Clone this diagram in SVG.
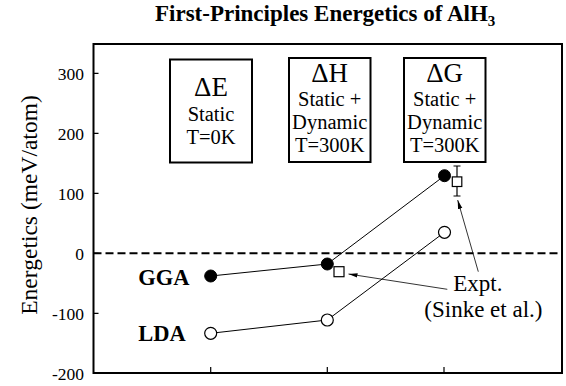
<svg xmlns="http://www.w3.org/2000/svg" width="566" height="386" viewBox="0 0 566 386" font-family="'Liberation Serif', 'Times New Roman', serif">
<style>
text { font-family: "Liberation Serif", "Times New Roman", serif; fill: #000; }
.tick { font-family: "Liberation Serif", serif; font-size: 17.5px; text-anchor: end; }
.bx { fill: #fff; stroke: #000; stroke-width: 2; }
.big { font-family: "Liberation Serif", serif; font-size: 27px; text-anchor: middle; }
.sub { font-family: "Liberation Serif", serif; font-size: 20.5px; text-anchor: middle; }
.lbl { font-family: "Liberation Serif", serif; font-size: 22.5px; font-weight: bold; }
.note { font-family: "Liberation Serif", serif; font-size: 23px; }
.ln { fill: none; stroke: #000; stroke-width: 1; }
.arr { fill: none; stroke: #000; stroke-width: 0.8; marker-end: url(#ah); }
.full { fill: #000; stroke: #000; stroke-width: 1; }
.open { fill: #fff; stroke: #000; stroke-width: 1.2; }
.sq { fill: #fff; stroke: #000; stroke-width: 1.2; }
</style>
<defs>
<marker id="ah" markerWidth="10" markerHeight="6" refX="9" refY="3" orient="auto" markerUnits="userSpaceOnUse">
<path d="M0,0.8 L9,3 L0,5.2 Z" fill="#000"/>
</marker>
</defs>
<rect width="566" height="386" fill="#fff"/>

<g id="title">
<text x="155" y="20.5" style="font-size:23px;font-weight:bold">First-Principles Energetics of AlH<tspan style="font-size:15px" dy="5.5">3</tspan></text>
</g>

<g id="axes">
<rect x="93.5" y="44" width="468.5" height="329" fill="none" stroke="#000" stroke-width="2"/>
<path d="M93.5,73.3 h5 M93.5,133.3 h5 M93.5,193.3 h5 M93.5,253.3 h5 M93.5,313.3 h5 M210.7,373 v-6 M327.3,373 v-6 M444,373 v-6" stroke="#000" stroke-width="1.2" fill="none"/>
<text class="tick" x="84" y="80">300</text>
<text class="tick" x="84" y="140">200</text>
<text class="tick" x="84" y="200">100</text>
<text class="tick" x="84" y="260">0</text>
<text class="tick" x="84" y="320">-100</text>
<text class="tick" x="84" y="380">-200</text>
<text x="37" y="205" transform="rotate(-90 37 205)" style="font-size:23.5px;text-anchor:middle">Energetics (meV/atom)</text>
<line x1="93.5" y1="253.3" x2="562" y2="253.3" stroke="#000" stroke-width="2" stroke-dasharray="8,4"/>
</g>

<g id="box-dE">
<rect class="bx" x="170" y="59.5" width="82" height="103"/>
<text class="big" x="211" y="95.5">ΔE</text>
<text class="sub" x="211" y="120.5">Static</text>
<text class="sub" x="211" y="143.5">T=0K</text>
</g>
<g id="box-dH">
<rect class="bx" x="289" y="58" width="81.5" height="104"/>
<text class="big" x="329.7" y="81.5">ΔH</text>
<text class="sub" x="329.7" y="106">Static +</text>
<text class="sub" x="329.7" y="129">Dynamic</text>
<text class="sub" x="329.7" y="152">T=300K</text>
</g>
<g id="box-dG">
<rect class="bx" x="404" y="58" width="81.5" height="104"/>
<text class="big" x="444.7" y="81.5">ΔG</text>
<text class="sub" x="444.7" y="106">Static +</text>
<text class="sub" x="444.7" y="129">Dynamic</text>
<text class="sub" x="444.7" y="152">T=300K</text>
</g>

<g id="connectors">
<polyline class="ln" points="210.7,276 327.3,264 444.5,175.7"/>
<polyline class="ln" points="210.7,333.3 327.3,320 444.5,232.3"/>
<line x1="457" y1="166" x2="457" y2="196" stroke="#000" stroke-width="1.2"/>
<path d="M453.5,166 h7 M453.5,196 h7" stroke="#000" stroke-width="1.2"/>
<line class="arr" x1="447.3" y1="289.3" x2="348.5" y2="274"/>
<line class="arr" x1="478.3" y1="271.7" x2="457.7" y2="200"/>
</g>

<g id="gga">
<circle class="full" cx="210.7" cy="276" r="6"/>
<circle class="full" cx="327.3" cy="264" r="6"/>
<circle class="full" cx="444.5" cy="175.7" r="6"/>
<text class="lbl" x="138.3" y="284.5">GGA</text>
</g>
<g id="lda">
<circle class="open" cx="210.7" cy="333.3" r="6"/>
<circle class="open" cx="327.3" cy="320" r="6"/>
<circle class="open" cx="444.5" cy="232.3" r="6"/>
<text class="lbl" x="138.3" y="341">LDA</text>
</g>
<g id="expt">
<rect class="sq" x="334" y="266.7" width="10" height="10"/>
<rect class="sq" x="452.3" y="176.9" width="9.5" height="9.6"/>
<text class="note" x="453.3" y="291">Expt.</text>
<text class="note" x="424.3" y="316.7">(Sinke et al.)</text>
</g>
</svg>
